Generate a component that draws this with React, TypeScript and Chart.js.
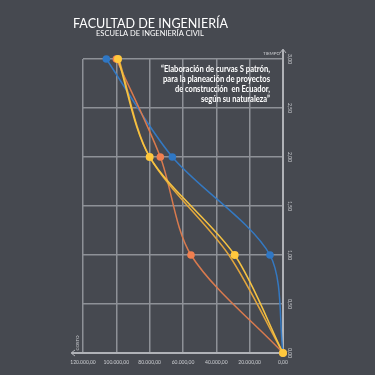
import React, { useEffect, useRef } from "react";
import { Chart, registerables } from "chart.js";

Chart.register(...registerables);

// ---- data ----
const timeValues = [3, 2, 1, 0];
const blueCost = [106000, 66400, 7800, 0];
const orangeCost = [100000, 73600, 55200, 0];
const goldCost = [98500, 80000, 32500, 0];
const yellowCost = [99000, 80000, 29000, 0];

const xTickValues = [0, 20000, 40000, 60000, 80000, 100000, 120000];
const xTickLabels = ["0,00", "20.000,00", "40.000,00", "60.000,00", "80.000,00", "100.000,00", "120.000,00"];
const yTickValues = [0, 0.5, 1, 1.5, 2, 2.5, 3];
const yTickLabels = ["0,00", "0,50", "1,00", "1,50", "2,00", "2,50", "3,00"];

const titleText = "FACULTAD DE INGENIERÍA";
const subtitleText = "ESCUELA DE INGENIERÍA CIVIL";
const noteLines = [
  "“Elaboración de curvas S patrón,",
  "para la planeación de proyectos",
  "de construcción  en Ecuador,",
  "según su naturaleza”",
];
const xAxisTitle = "COSTO";
const yAxisTitle = "TIEMPO";

const BG = "#464950";
const GRID = "#8E9197";
const AXIS = "#B0B2B7";
const LABEL = "#CDCFD3";

function series(costs: number[]) {
  return timeValues.map((t, i) => ({ x: costs[i], y: t }));
}

const textPlugin = {
  id: "textPlugin",
  afterDraw(chart: any) {
    const ctx = chart.ctx as CanvasRenderingContext2D;
    const area = chart.chartArea;
    const ys = chart.scales.y;
    ctx.save();

    // axis extensions with arrows
    ctx.strokeStyle = AXIS;
    ctx.lineWidth = 2;
    ctx.beginPath();
    ctx.moveTo(area.right, area.top);
    ctx.lineTo(area.right, area.top - 9);
    ctx.moveTo(area.left, area.bottom);
    ctx.lineTo(area.left - 11, area.bottom);
    ctx.stroke();
    ctx.lineWidth = 1;
    ctx.beginPath();
    ctx.moveTo(area.right - 3, area.top - 6);
    ctx.lineTo(area.right, area.top - 10);
    ctx.lineTo(area.right + 3, area.top - 6);
    ctx.moveTo(area.left - 8, area.bottom - 3);
    ctx.lineTo(area.left - 12, area.bottom);
    ctx.lineTo(area.left - 8, area.bottom + 3);
    ctx.stroke();

    // title
    ctx.fillStyle = "#FFFFFF";
    ctx.textBaseline = "alphabetic";
    ctx.textAlign = "left";
    ctx.font = "14px Lato";
    ctx.fillText(titleText, 73, 27.5, 155);
    ctx.font = "7.5px Lato";
    ctx.fillText(subtitleText, 96, 36, 110);

    // note
    ctx.textAlign = "right";
    ctx.textBaseline = "middle";
    ctx.font = "bold 8.5px Lato";
    const widths = [109, 107, 95, 69];
    noteLines.forEach((line, i) => {
      ctx.fillText(line, 270, 69.5 + i * 10, widths[i]);
    });

    // axis titles
    ctx.fillStyle = LABEL;
    ctx.font = "4.5px Lato";
    ctx.textAlign = "right";
    ctx.fillText(yAxisTitle, area.right - 3, area.top - 5);
    ctx.save();
    ctx.translate(area.left - 5, area.bottom - 10);
    ctx.rotate(-Math.PI / 2);
    ctx.textAlign = "center";
    ctx.fillText(xAxisTitle, 0, 0);
    ctx.restore();

    // y tick labels (rotated)
    ctx.font = "5px Lato";
    yTickValues.forEach((v, i) => {
      const y = ys.getPixelForValue(v);
      ctx.save();
      ctx.translate(area.right + 7, y);
      ctx.rotate(Math.PI / 2);
      ctx.textAlign = "center";
      ctx.textBaseline = "middle";
      ctx.fillText(yTickLabels[i], 0, 0);
      ctx.restore();
    });
    ctx.restore();
  },
};

export default function App() {
  const ref = useRef<HTMLCanvasElement | null>(null);
  useEffect(() => {
    if (!ref.current) return;
    const common = {
      borderWidth: 1.5,
      tension: 0.3,
      clip: false as any,
      pointBorderWidth: 0,
    };
    const chart = new Chart(ref.current, {
      type: "line",
      data: {
        datasets: [
          {
            ...common,
            label: "Amarillo",
            data: series(yellowCost),
            borderColor: "#F6C342",
            backgroundColor: "#FFC83D",
            pointBackgroundColor: "#FFC83D",
            pointRadius: 4,
          },
          {
            ...common,
            label: "Dorado",
            data: series(goldCost),
            borderColor: "#E2A63C",
            pointRadius: 0,
          },
          {
            ...common,
            label: "Naranja",
            data: series(orangeCost),
            borderColor: "#D97A4E",
            pointBackgroundColor: "#F07F4F",
            pointRadius: 3.8,
          },
          {
            ...common,
            label: "Azul",
            data: series(blueCost),
            borderColor: "#3479C2",
            pointBackgroundColor: "#2F77C4",
            pointRadius: 3.8,
          },
        ],
      } as any,
      options: {
        animation: false,
        responsive: false,
        layout: { padding: { left: 83, right: 80, top: 59, bottom: 8 } },
        plugins: { legend: { display: false }, tooltip: { enabled: false } },
        scales: {
          x: {
            type: "linear",
            reverse: true,
            min: 0,
            max: 120000,
            position: "bottom",
            afterBuildTicks: (s: any) => {
              s.ticks = xTickValues.map((v) => ({ value: v }));
            },
            ticks: {
              autoSkip: false,
              maxRotation: 0,
              minRotation: 0,
              padding: 6,
              color: LABEL,
              font: { size: 5, family: "Lato" },
              callback: (v: any) => xTickLabels[xTickValues.indexOf(Number(v))],
            },
            grid: { color: GRID, lineWidth: 1.5, drawTicks: false },
            border: { color: AXIS, width: 2 },
            afterFit: (s: any) => {
              s.height = 14;
            },
          },
          y: {
            type: "linear",
            position: "right",
            min: 0,
            max: 3,
            afterBuildTicks: (s: any) => {
              s.ticks = yTickValues.map((v) => ({ value: v }));
            },
            ticks: { display: false },
            grid: { color: GRID, lineWidth: 1.5, drawTicks: false },
            border: { color: AXIS, width: 2 },
            afterFit: (s: any) => {
              s.width = 12;
            },
          },
        },
      } as any,
      plugins: [textPlugin],
    });
    return () => chart.destroy();
  }, []);

  return (
    <div style={{ position: "fixed", left: 0, top: 0, width: 375, height: 375, background: BG }}>
      <canvas ref={ref} width={375} height={375} style={{ width: 375, height: 375, display: "block" }} />
    </div>
  );
}
